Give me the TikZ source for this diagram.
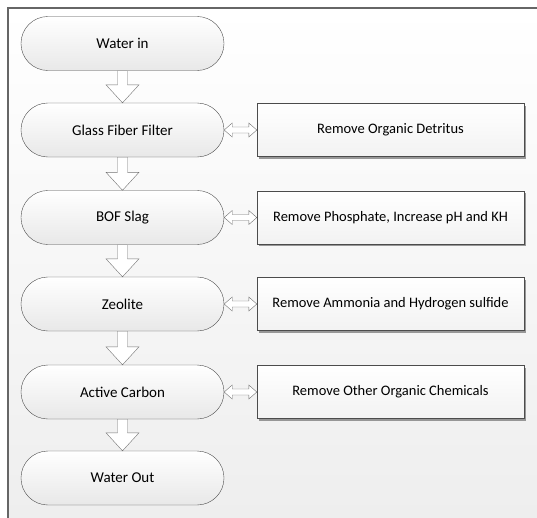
\documentclass[tikz,border=0pt]{standalone}
\usepackage{fontspec}
\setmainfont{Carlito}
\usetikzlibrary{calc,shadows}

\begin{document}
\begin{tikzpicture}[
    x=1pt, y=-1pt,
    stage/.style={draw=black!70, rounded corners=26.9pt, top color=white, bottom color=black!9,
      minimum width=203pt, minimum height=54pt, inner sep=0pt, font=\fontsize{15}{18}\selectfont},
    task/.style={draw=black!70, top color=white, bottom color=black!5, minimum width=267pt,
      minimum height=53pt, inner sep=0pt, font=\fontsize{14.5}{17}\selectfont,
      drop shadow={shadow xshift=2pt, shadow yshift=-2pt, fill=black!50, opacity=0.8}},
    downarr/.style={draw=black!55, fill=white, to path={let \p1=(\tikztostart), \p2=(\tikztotarget) in
      (\x1-5pt,\y1) -- (\x1-5pt,\y2+18pt) -- (\x1-16.5pt,\y2+18pt) -- (\x2,\y2) --
      (\x1+16.5pt,\y2+18pt) -- (\x1+5pt,\y2+18pt) -- (\x1+5pt,\y1) -- cycle}},
    duoarr/.style={draw=black!55, fill=white, to path={let \p1=(\tikztostart), \p2=(\tikztotarget) in
      (\x1,\y1) -- (\x1+8pt,\y1+7pt) -- (\x1+8pt,\y1+3pt) -- (\x2-8pt,\y1+3pt) --
      (\x2-8pt,\y1+7pt) -- (\x2,\y1) -- (\x2-8pt,\y1-7pt) -- (\x2-8pt,\y1-3pt) --
      (\x1+8pt,\y1-3pt) -- (\x1+8pt,\y1-7pt) -- cycle}}
  ]
  \useasboundingbox (0,0) rectangle (537,517);
  \clip (0,0) rectangle (537,517);
  % frame
  \draw[black!60, line width=1.4pt, top color=white, bottom color=black!7] (8,8) rectangle (570,545);

  \foreach \name/\y/\txt in {waterin/43.5/Water in, glass/130/Glass Fiber Filter, bof/217.5/BOF Slag,
      zeolite/304/Zeolite, carbon/392/Active Carbon, waterout/478/Water Out} {
    \node[stage] (\name) at (122.5,\y) {\txt};
  }
  \foreach \name/\y/\txt in {glass/130/Remove Organic Detritus, bof/217.5/{Remove Phosphate, Increase pH and KH},
      zeolite/304/Remove Ammonia and Hydrogen sulfide, carbon/392/Remove Other Organic Chemicals} {
    \node[task] (\name-t) at (390.5,\y) {\txt};
    \draw[duoarr] (\name.east) to (\name-t.west);
  }
  \foreach \a/\b in {waterin/glass, glass/bof, bof/zeolite, zeolite/carbon, carbon/waterout} {
    \draw[downarr] (\a.south) to (\b.north);
  }
\end{tikzpicture}
\end{document}
